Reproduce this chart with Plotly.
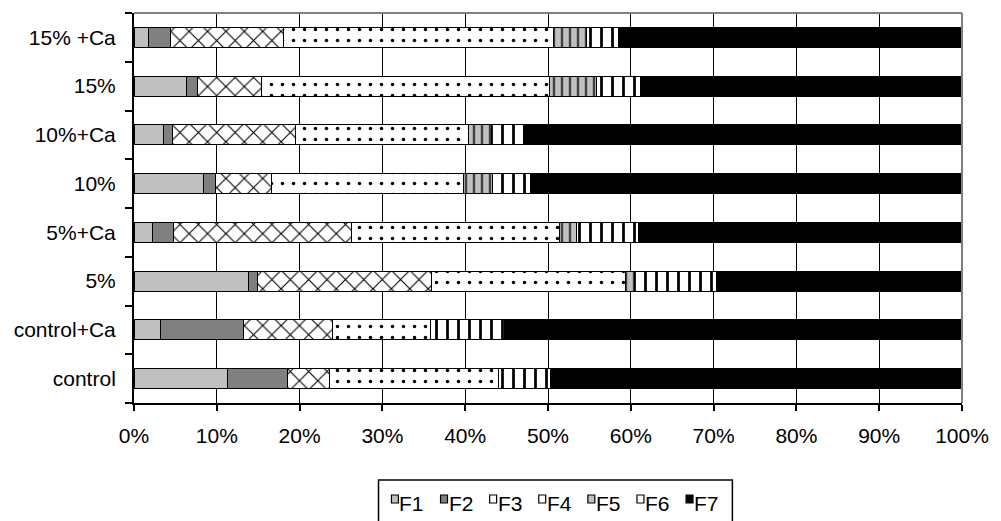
import plotly.graph_objects as go

# Treatments, bottom to top
treatments = ["control", "control+Ca", "5%", "5%+Ca", "10%", "10%+Ca", "15%", "15% +Ca"]

# Share of each fraction (%), per treatment in the order above
F1 = [11.3, 3.15, 13.8, 2.2, 8.4, 3.6, 6.3, 1.7]
F2 = [7.2, 10.1, 1.1, 2.6, 1.5, 1.0, 1.4, 2.65]
F3 = [5.1, 10.75, 21.0, 21.5, 6.7, 14.9, 7.75, 13.75]
F4 = [20.4, 11.85, 23.5, 25.1, 23.2, 20.9, 34.75, 32.6]
F5 = [0.0, 0.0, 1.1, 2.0, 3.55, 2.8, 5.65, 4.0]
F6 = [6.3, 8.85, 9.9, 7.5, 4.55, 3.9, 5.35, 3.8]
F7 = [49.7, 55.3, 29.6, 39.1, 52.1, 52.9, 38.8, 41.5]

series_names = ["F1", "F2", "F3", "F4", "F5", "F6", "F7"]
series_values = [F1, F2, F3, F4, F5, F6, F7]

x_ticks = list(range(0, 101, 10))
x_tick_labels = [f"{v}%" for v in x_ticks]

FONT = "Liberation Sans, Arial, sans-serif"
FS = 21

# fill style per fraction: (background, pattern shape, pattern colour, size, solidity)
styles = {
    "F1": ("#c0c0c0", "", None, None, None),
    "F2": ("#808080", "", None, None, None),
    "F3": ("#ffffff", "x", "#000000", 13, 0.16),
    "F4": ("#ffffff", ".", "#000000", 11, 0.08),
    "F5": ("#c0c0c0", "|", "#404040", 8, 0.3),
    "F6": ("#ffffff", "|", "#000000", 11, 0.25),
    "F7": ("#000000", "", None, None, None),
}

fig = go.Figure()
for name, vals in zip(series_names, series_values):
    bg, shape, fg, size, sol = styles[name]
    pattern = dict(shape=shape)
    if shape:
        pattern.update(fgcolor=fg, bgcolor=bg, size=size, solidity=sol, fillmode="replace")
    fig.add_trace(go.Bar(
        name=name, y=treatments, x=vals, orientation="h",
        width=0.41,
        marker=dict(color=bg, pattern=pattern, line=dict(color="#000000", width=1)),
        showlegend=False,
    ))

fig.update_layout(
    barmode="stack",
    width=1001, height=521,
    margin=dict(l=134, r=34, t=13, b=118),
    paper_bgcolor="white", plot_bgcolor="white",
    font=dict(family=FONT, size=FS, color="black"),
    xaxis=dict(
        range=[0, 100], tickvals=x_ticks, ticktext=x_tick_labels,
        showgrid=True, gridcolor="#000000", gridwidth=1,
        showline=True, linecolor="black", linewidth=2,
        ticks="outside", ticklen=6, tickcolor="black", tickwidth=2,
        ticklabelstandoff=7, zeroline=False,
    ),
    yaxis=dict(
        categoryorder="array", categoryarray=treatments,
        showline=True, linecolor="black", linewidth=2,
        ticks="outside", ticklen=7, tickcolor="black", tickwidth=2,
        tickson="boundaries", showgrid=False, ticklabelstandoff=12,
    ),
)

# plot-area frame (top and right edges)
fig.add_shape(type="line", xref="paper", yref="paper", x0=0, x1=1, y0=1, y1=1,
              line=dict(color="#808080", width=2), layer="above")
fig.add_shape(type="line", xref="paper", yref="paper", x0=1, x1=1, y0=0, y1=1,
              line=dict(color="#808080", width=2), layer="above")

# legend below the plot, built from series names
PL, PT, PW, PH = 134, 13, 833, 390


def px(x):
    return (x - PL) / PW


def py(y):
    return (PT + PH - y) / PH


fig.add_shape(type="rect", xref="paper", yref="paper",
              x0=px(380), x1=px(736), y0=py(480), y1=py(545),
              line=dict(color="black", width=1.5), fillcolor="white", layer="above")

legend_fill = {"F1": "#c0c0c0", "F2": "#808080", "F3": "#ffffff", "F4": "#ffffff",
               "F5": "#c0c0c0", "F6": "#ffffff", "F7": "#000000"}
for i, name in enumerate(series_names):
    x0 = 393 + i * 49.4
    fig.add_shape(type="rect", xref="paper", yref="paper",
                  x0=px(x0), x1=px(x0 + 7), y0=py(495), y1=py(503),
                  line=dict(color="black", width=1.2), fillcolor=legend_fill[name], layer="above")
    fig.add_annotation(xref="paper", yref="paper", x=px(x0 + 6), y=py(503),
                       xanchor="left", yanchor="middle", showarrow=False,
                       text=name, font=dict(family=FONT, size=FS, color="black"))

fig.write_html("out.html")
